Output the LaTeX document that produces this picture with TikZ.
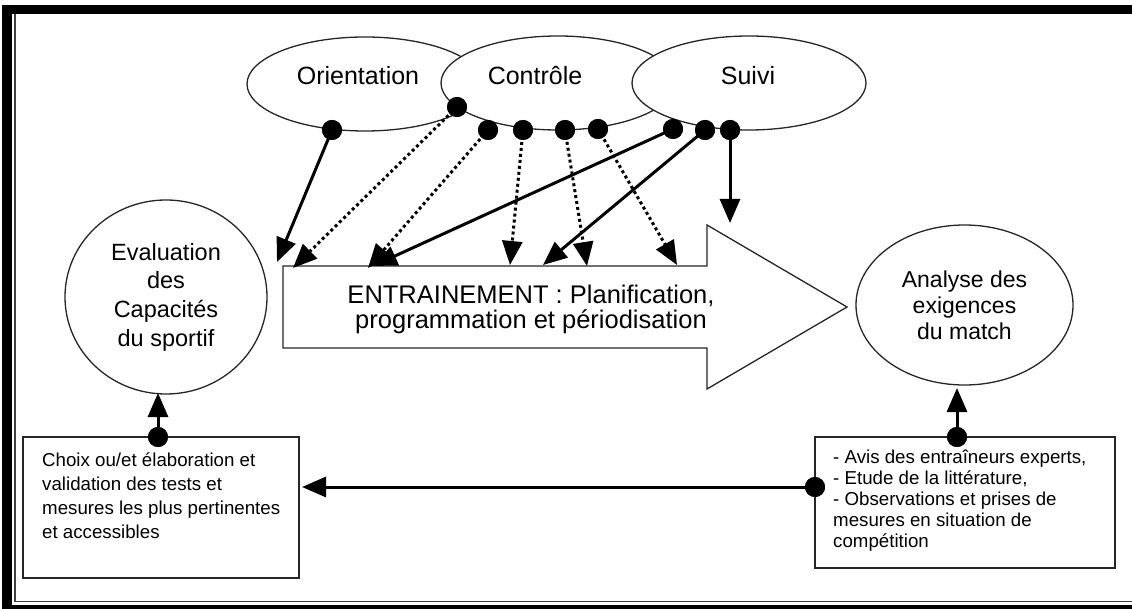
\documentclass[tikz,border=0pt]{standalone}
\usepackage{fontspec}
\setmainfont{Liberation Sans}
\usetikzlibrary{arrows.meta,shapes.geometric}
\begin{document}
\begin{tikzpicture}[x=1pt,y=-1pt,
  outline/.style={draw=black!85, line width=1.3pt},
  oval/.style={outline, ellipse, fill=white, inner sep=0pt},
  bigtext/.style={font=\fontsize{25}{27}\selectfont, inner sep=0pt},
  roundtext/.style={font=\fontsize{23.5}{28.7}\selectfont, align=center},
  smalltext/.style={font=\fontsize{18.7}{23.7}\selectfont, align=left, inner sep=0pt},
  dot/.style={circle, fill=black, inner sep=0pt, minimum size=20pt},
  tip/.style={-{Triangle[length=24pt,width=20pt]}},
  solidlink/.style={tip, line width=3pt},
  dottedlink/.style={tip, line width=3pt, dash pattern=on 3pt off 3pt}]

% page and double frame
\useasboundingbox (0,0) rectangle (1132,609);
\fill[white] (0,0) rectangle (1132,609);
\fill[black] (2,5) rectangle (1132,609);
\fill[white] (12,14) rectangle (1132,605);
\draw[black!75, line width=1.3pt] (15,14) -- (15,601.5) -- (1132,601.5);

% the three overlapping ovals
\node[oval, minimum width=236pt, minimum height=94pt] (orient) at (365,84) {};
\node[oval, minimum width=234pt, minimum height=94pt] (ctrl) at (558,83) {};
\node[oval, minimum width=234pt, minimum height=94pt] (suivi) at (749,83) {};
\node[bigtext, anchor=base] (orientlbl) at (358,85) {Orientation};
\node[bigtext, anchor=base] (ctrllbl) at (535,85) {Contrôle};
\node[bigtext, anchor=base] (suivilbl) at (748,85) {Suivi};

% training block arrow
\draw[outline, fill=white] (283,266) coordinate (blk) -- (707,266) -- (707,225) -- (847,307)
  -- (707,389) -- (707,348) -- (283,348) -- cycle;
\node[font=\fontsize{25.5}{25}\selectfont, align=center, inner sep=0pt] (train) at (531,309)
  {ENTRAINEMENT : Planification,\\programmation et périodisation};

% side ovals
\node[oval, roundtext, minimum width=202pt, minimum height=194pt] (eval) at (166,297)
  {Evaluation\\des\\Capacités\\du sportif};
\node[oval, font=\fontsize{23}{26}\selectfont, align=center, minimum width=217pt, minimum height=160pt]
  (match) at (964.5,305) {Analyse des\\exigences\\du match};

% bottom boxes
\node[outline, rectangle, minimum width=276pt, minimum height=141pt] (tests) at (161,507.5) {};
\node[smalltext, anchor=north west] (testslbl) at (42,453)
  {Choix ou/et élaboration et\\validation des tests et\\mesures les plus pertinentes\\et accessibles};
\node[outline, rectangle, minimum width=300pt, minimum height=131pt] (sources) at (965,502.5) {};
\node[smalltext, anchor=north west, font=\fontsize{18.7}{21}\selectfont] (sourceslbl) at (833,449.5)
  {- Avis des entraîneurs experts,\\- Etude de la littérature,\\- Observations et prises de\\mesures en situation de\\compétition};

% arrow end points
\coordinate (to1) at (277,262);
\coordinate (tc0) at (293,268);
\coordinate (tc1) at (368,268);
\coordinate (ts1) at (373,266);
\coordinate (tc2) at (510,265);
\coordinate (ts2) at (543,265);
\coordinate (tc3) at (587,266);
\coordinate (tc4) at (677,265);
\coordinate (ts3) at (730,223);
\coordinate (tbl) at (158,393);
\coordinate (tbr) at (957,388);
\coordinate (tbh) at (302,487);

% connection dots
\node[dot] (o1) at (332,130) {};
\node[dot] (c0) at (457,107) {};
\node[dot] (c1) at (488,130) {};
\node[dot] (c2) at (523,130) {};
\node[dot] (c3) at (565,130) {};
\node[dot] (c4) at (598,129) {};
\node[dot] (s1) at (673,129) {};
\node[dot] (s2) at (705,130) {};
\node[dot] (s3) at (730,130) {};
\node[dot] (bl) at (158,437) {};
\node[dot] (br) at (957,437) {};
\node[dot] (bh) at (815,487) {};

% connectors
\draw[solidlink] (o1.center) -- (to1);
\draw[dottedlink] (c0.center) -- (tc0);
\draw[dottedlink] (c1.center) -- (tc1);
\draw[solidlink] (s1.center) -- (ts1);
\draw[dottedlink] (c2.center) -- (tc2);
\draw[solidlink] (s2.center) -- (ts2);
\draw[dottedlink] (c3.center) -- (tc3);
\draw[dottedlink] (c4.center) -- (tc4);
\draw[solidlink] (s3.center) -- (ts3);
\draw[solidlink] (bl.center) -- (tbl);
\draw[solidlink] (br.center) -- (tbr);
\draw[solidlink] (bh.center) -- (tbh);

% dots over line ends
\foreach \d in {o1,c0,c1,c2,c3,c4,s1,s2,s3,bl,br,bh}
  \fill (\d) circle (10pt);
\end{tikzpicture}
\end{document}
